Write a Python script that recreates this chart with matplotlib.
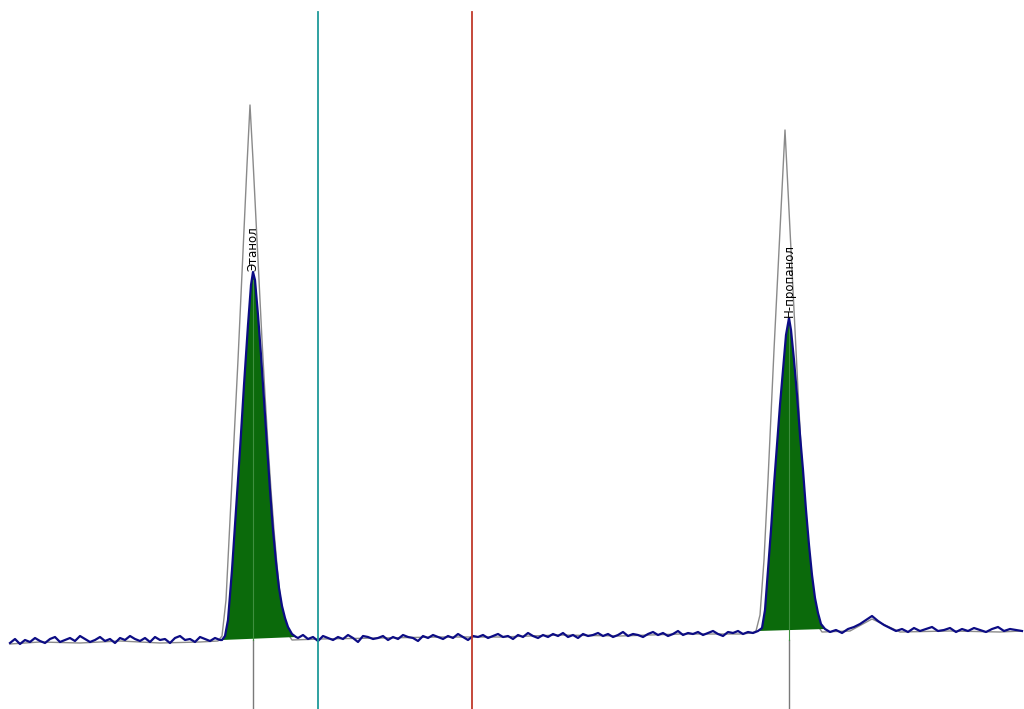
import matplotlib.pyplot as plt

# Chromatogram signal (arbitrary units, baseline ~ 0), time axis in arbitrary units
base_left_t = list(range(10, 221, 5))
base_left_s = [-3, 1, -4, 0, -2, 2, -1, -3, 1, 3, -2, 0, 2, -1, 4, 1, -2, 0, 3, -1, 1,
               -3, 2, 0, 4, 1, -1, 2, -2, 3, 0, 1, -3, 2, 4, 0, 1, -2, 3, 1, -1, 2, 0]

ethanol_t = [222, 225, 228, 232, 236, 240, 244, 248, 251, 253, 255, 258, 261, 264, 267,
             270, 273, 276, 279, 282, 285, 288, 292, 296]
ethanol_s = [0, 4, 20, 70, 130, 190, 255, 315, 355, 368, 360, 325, 285, 240, 195, 150,
             110, 78, 52, 34, 22, 13, 6, 3]

base_mid_t = list(range(298, 754, 5))
base_mid_s = [2, 5, 1, 3, -1, 4, 2, 0, 3, 1,
              5, 2, -2, 4, 3, 1, 2, 4, 0, 3,
              1, 5, 3, 2, -1, 4, 2, 5, 3, 1,
              4, 2, 6, 3, 0, 4, 3, 5, 2, 4,
              6, 3, 4, 1, 5, 3, 7, 4, 2, 5,
              3, 6, 4, 7, 3, 5, 2, 6, 4, 5,
              7, 4, 6, 3, 5, 8, 4, 6, 5, 3,
              6, 8, 5, 7, 4, 6, 9, 5, 7, 6,
              8, 5, 7, 9, 6, 4, 8, 7, 9, 6,
              8, 7]

propanol_t = [758, 762, 765, 768, 771, 774, 777, 780, 783, 786, 789, 791, 794, 797, 800,
              803, 806, 809, 812, 815, 818, 821, 825]
propanol_s = [9, 12, 30, 70, 110, 155, 195, 235, 270, 305, 322, 310, 280, 245, 205, 170,
              130, 95, 65, 42, 27, 16, 11]

base_right_t = list(range(830, 1023, 6))
base_right_s = [8, 10, 7, 11, 13, 16, 20, 24, 19, 15, 12, 9, 11, 8, 12, 9, 11, 13, 9,
                10, 12, 8, 11, 9, 12, 10, 8, 11, 13, 9, 11, 10, 9]

# second (reference) run, drawn in grey with taller peaks
grey_t = [10, 40, 80, 120, 160, 200, 218, 222, 226, 230, 234, 238, 241, 244, 247, 250,
          253, 256, 259, 262, 265, 268, 271, 274, 277, 280, 284, 288, 292, 320, 380,
          440, 500, 560, 620, 680, 740, 752, 756, 760, 764, 768, 771, 774, 777, 780,
          783, 785, 787, 790, 793, 796, 799, 802, 805, 808, 811, 814, 818, 822, 850,
          872, 900, 950, 1000, 1022]
grey_s = [-4, -2, -3, -1, -3, -2, -1, 4, 40, 120, 200, 280, 345, 410, 475, 535, 480,
          420, 360, 300, 245, 195, 150, 110, 75, 45, 20, 6, 0, 1, 2, 3, 3, 5, 4, 6, 6,
          7, 9, 25, 80, 160, 225, 290, 350, 410, 470, 510, 470, 410, 350, 290, 230,
          175, 125, 85, 55, 30, 14, 8, 9, 21, 8, 9, 8, 9]

peak_names = ['Этанол', 'Н-пропанол']
peak_times = [253, 789]
peak_heights = [368, 322]
teal_marker = 318
red_marker = 472

blue_t = base_left_t + ethanol_t + base_mid_t + propanol_t + base_right_t
blue_s = base_left_s + ethanol_s + base_mid_s + propanol_s + base_right_s

fig = plt.figure(figsize=(10.24, 7.09), dpi=100)
ax = fig.add_axes([0, 0, 1, 1])
ax.set_xlim(0, 1024)
ax.set_ylim(-69, 640)
ax.axis('off')

ax.plot(grey_t, grey_s, color='#8a8a8a', lw=1.0, zorder=1)

# green peak areas
ax.fill(ethanol_t, ethanol_s, color='#0b6a0b', lw=0, zorder=2)
ax.fill(propanol_t, propanol_s, color='#0b6a0b', lw=0, zorder=2)

ax.plot(blue_t, blue_s, color='#0c0c84', lw=1.6, zorder=3)

# retention time marks
for t, h in zip(peak_times, peak_heights):
    ax.plot([t, t], [0, -69], color='#7a7a7a', lw=1.0, zorder=1)
    ax.plot([t, t], [0, h - 8], color='#3f8f3f', lw=0.8, zorder=2.5)

top = (640 - 12 + 69) / 709
ax.axvline(teal_marker, ymax=top, color='#1f9a9a', lw=1.3, zorder=4)
ax.axvline(red_marker, ymax=top, color='#c0392b', lw=1.3, zorder=4)

for name, t, h in zip(peak_names, peak_times, peak_heights):
    ax.text(t, h + 1, name, rotation=90, ha='center', va='bottom',
            fontsize=8.5, color='black', zorder=5)

fig.savefig('out.png', dpi=100)
